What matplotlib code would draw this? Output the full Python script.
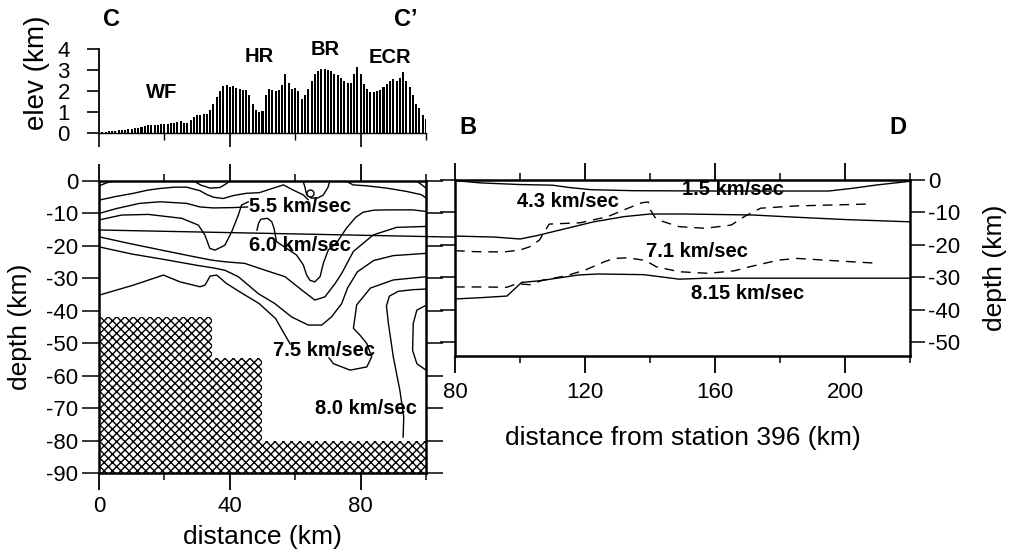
import numpy as np
import matplotlib
matplotlib.use("Agg")
import matplotlib.pyplot as plt
from matplotlib.ticker import FixedLocator

plt.rcParams['font.family'] = ['Liberation Sans', 'DejaVu Sans']
plt.rcParams['axes.unicode_minus'] = False
plt.rcParams['hatch.linewidth'] = 1.0

# ---------------- data ----------------
# topography along C-C' (km), one sample per km from 0 to 100
elev_km = [0.05, 0.06, 0.07, 0.08, 0.09, 0.10, 0.12, 0.13, 0.15, 0.17,
           0.20, 0.22, 0.25, 0.30, 0.35, 0.37, 0.36, 0.38, 0.40, 0.42,
           0.44, 0.45, 0.47, 0.50, 0.53, 0.55, 0.50, 0.47, 0.60, 0.75,
           0.85, 0.88, 0.90, 0.92, 1.10, 1.40, 1.70, 2.00, 2.25, 2.30,
           2.20, 2.25, 2.15, 2.10, 2.05, 2.05, 1.80, 1.40, 1.10, 1.00,
           1.05, 1.80, 2.10, 2.05, 2.00, 2.05, 2.30, 2.80, 2.40, 2.10,
           2.15, 2.00, 1.60, 1.80, 2.10, 2.50, 2.80, 2.95, 3.05, 3.05,
           3.00, 2.95, 2.80, 2.75, 2.60, 2.50, 2.40, 2.40, 2.80, 3.15,
           2.80, 2.35, 2.10, 1.95, 1.95, 2.00, 2.05, 2.20, 2.35, 2.50,
           2.55, 2.50, 2.60, 2.90, 2.50, 2.20, 1.80, 1.40, 1.20, 0.85,
           0.65]
elev_dist = np.arange(len(elev_km))

range_names = ["WF", "HR", "BR", "ECR"]
range_dist = [19.0, 48.9, 69.1, 89.1]
range_elev = [1.93, 3.64, 3.98, 3.60]

# velocity contours on profile C-C' as (distance km, depth km)
cc_west_top = [(0, -1.5), (2, -0.7), (4, 0)]
cc_dip_top = [(29, 0), (31, -1.2), (34, -2.2), (37, -2.0), (39, -0.8), (40, 0)]
cc_upper = [(0, -5.9), (5, -4.8), (10.5, -3.8), (15, -2.8), (18.7, -2.3), (23, -1.9),
            (26.8, -1.9), (30.9, -3.0), (33, -4.2), (35, -5.0), (38, -5.4), (41, -4.5),
            (45, -3.8), (49, -3.6), (53, -2.3), (56.4, -1.2), (59.4, -2.8), (62.5, -4.3),
            (64, -5.8)]
cc_upper_east = [(75.5, 0), (77.7, -1.2), (82, -1.5), (88, -2.2), (94, -3.2),
                 (98.5, -4.2), (100, -5.2)]
cc_u_shape = [(62.4, 0), (63, -2), (63.5, -4.3), (65, -5.3), (67, -5.2), (68.6, -4.3),
              (70, -2), (70.6, 0)]
cc_corner = [(97, 0), (98.5, -1.0), (100, -2.2)]
cc_55 = [(0, -10), (5.3, -8.5), (12.4, -6.9), (18.7, -6.4), (26.8, -6.9), (30.9, -8),
         (35, -8.3), (41, -8.2), (45.5, -8)]
cc_trough = [(0, -12), (6.9, -10.5), (15.1, -10.3), (25.3, -11.5), (30.4, -13.6),
             (32.4, -16.7), (33.9, -20.8), (35.5, -21.3), (38.5, -19.8), (40.6, -15.6),
             (42.6, -10.5), (43.6, -7.4), (45.7, -6.4)]
cc_60 = [(48.3, -15.2), (48.8, -13), (49.5, -11.8), (51.5, -11.5), (52.8, -12.5),
         (53.5, -14.5), (54.3, -18.7), (57.4, -20.8), (60.4, -22.8), (62.5, -25.9),
         (63.5, -29), (64.5, -30.6), (66, -31.1), (67.6, -29.5), (68.6, -25.4),
         (70.1, -21.3), (72.7, -19.0), (75.7, -14.5), (78.5, -11.2), (80.8, -9.6),
         (84, -9.0), (88, -8.9), (96, -8.9), (100, -9.4)]
cc_mid = [(0, -17.2), (9, -19.2), (19.1, -21.3), (29.4, -23.4), (34.5, -24.4),
          (38.5, -24.9), (44.6, -25.4), (50.8, -27.5), (56.9, -29.5), (62, -33.6),
          (66, -36.7), (69.1, -35.7), (72.2, -31.6), (74.2, -28.5), (77.8, -21.7),
          (83.9, -16.6), (91, -14.3), (100, -14)]
cc_deep = [(0, -20.3), (10, -22.5), (20, -24.2), (30, -26), (35, -26.8), (38.5, -27.5),
           (42.6, -29.5), (48.7, -34.7), (53.8, -37.8), (58.9, -41.9), (64, -44.4),
           (68.1, -44.4), (71.1, -41.9), (74.2, -37.8), (76, -33), (79, -28),
           (84, -24.5), (90, -23), (100, -22.3)]
cc_75 = [(0, -35.2), (10.5, -32.1), (19.7, -29), (24.8, -31.1), (30.9, -32.6),
         (32.4, -32.1), (34, -29.3), (36, -29), (39, -31.6), (43.1, -34.2), (49, -37.8),
         (54, -42.4), (56.9, -47.5), (58.5, -50.3)]
cc_75_loop = [(70.3, -54.5), (71.7, -56.3), (76.8, -58.3), (81.9, -57.3), (83.4, -54.2),
              (81.9, -50.1), (79.8, -47.5), (77.8, -45.4), (78.8, -38.2), (83, -33),
              (90, -30.5), (100, -29.5)]
cc_80 = [(93, -79), (93.2, -72.7), (92, -64.5), (90, -54.2), (88.5, -43.9),
         (87.9, -38.5), (88.8, -35.5), (91.5, -34), (96, -33.5), (100, -33.3)]
cc_edge_loop = [(100, -38.3), (97.2, -39.8), (96.1, -43.9), (95.9, -52.2),
                (97.2, -56.3), (100, -58.3)]
cc_small_ring = (64.5, -3.8)
# straight reference line carried across to profile B-D
cross_line_dist = [0, 108.9]
cross_line_depth = [-15.1, -17.3]

# unresolved (hatched) zone: step edges and top depth
unres_edges = [0, 34.5, 49.7, 100]
unres_top = [-42, -54.7, -80, -80]

cc_labels = ["5.5 km/sec", "6.0 km/sec", "7.5 km/sec", "8.0 km/sec"]
cc_label_dist = [61.5, 61.5, 68.7, 81.5]
cc_label_depth = [-7.9, -19.8, -52.2, -70.2]

# layer boundaries on profile B-D (distance from station 396 km, depth km)
bd_15 = [(80, -0.2), (88, -0.9), (100, -1.4), (110, -1.6), (115, -2.3), (122, -3.0),
         (135, -3.3), (160, -3.4), (180, -3.4), (195, -3.4), (202, -2.6), (210, -1.5),
         (220, -0.4)]
bd_43 = [(80, -17.3), (92, -17.6), (100, -18.2), (105, -17.2), (112, -15.5),
         (122.7, -12.9), (132, -11.3), (140, -10.5), (151, -10.5), (171.6, -10.8),
         (185.3, -11.5), (200, -12.2), (220, -12.9)]
bd_815 = [(80, -36.7), (88, -36.3), (96, -35.8), (100.5, -31.6), (106, -31.1),
          (118, -29.3), (124, -29.0), (138, -29.2), (149, -30.6), (157, -30.3),
          (180, -30.3), (220, -30.3)]
bd_dash_upper = [(80, -21.8), (86, -22.1), (95, -22.2), (100, -21.6), (103, -20.6),
                 (106, -18.5), (107.5, -16), (109, -13.6), (118.5, -13.2), (127, -11.3),
                 (133, -8.8), (137.5, -7.0), (139.5, -6.8), (140, -9), (141.5, -11.5),
                 (143, -12.5), (149, -14.4), (157, -14.9), (165, -13.9), (169, -11.3),
                 (174, -8.7), (185, -8), (208, -7.4)]
bd_dash_lower = [(80, -33), (88, -33), (96, -33.1), (99, -32), (103, -32.3),
                 (107, -30.9), (114, -29.6), (120, -27.8), (126, -25.2), (129, -24.2),
                 (133, -24), (138.5, -24.8), (142, -26.8), (149, -28.3), (158, -28.8),
                 (166, -28), (170.5, -26.8), (179.6, -24.7), (185.3, -24.2),
                 (196.6, -24.9), (210.3, -25.7)]
bd_labels = ["1.5 km/sec", "4.3 km/sec", "7.1 km/sec", "8.15 km/sec"]
bd_label_dist = [165.4, 114.7, 154.5, 170.0]
bd_label_depth = [-3.0, -6.7, -22.1, -35.0]

# ---------------- figure ----------------
W, H = 1011, 556
fig = plt.figure(figsize=(W / 100, H / 100), dpi=100)


def px_axes(x0, y0, x1, y1):
    return fig.add_axes([x0 / W, 1 - y1 / H, (x1 - x0) / W, (y1 - y0) / H])


ax_el = px_axes(99, 49, 426, 133)
ax_l = px_axes(99, 181, 426, 473)
ax_r = px_axes(455, 180, 910, 356)

TICK_FS = 16
LAB_FS = 19
TXT_FS = 14.5
LW = 1.0


def curve(ax, pts, **kw):
    xs, zs = zip(*pts)
    ax.plot(xs, zs, color='black', lw=kw.pop('lw', LW), solid_capstyle='round', **kw)


# ---- elevation profile ----
ax_el.bar(elev_dist, elev_km, width=0.62, color='black', linewidth=0)
ax_el.set_xlim(0, 100)
ax_el.set_ylim(0, 4)
for s in ('top', 'right'):
    ax_el.spines[s].set_visible(False)
ax_el.spines['left'].set_linewidth(1.3)
ax_el.spines['bottom'].set_linewidth(1.0)
ax_el.set_yticks([0, 1, 2, 3, 4])
ax_el.xaxis.set_major_locator(FixedLocator([0, 40, 80]))
ax_el.xaxis.set_minor_locator(FixedLocator([20, 60, 100]))
ax_el.tick_params(axis='x', which='major', length=10, width=1.2, labelbottom=False)
ax_el.tick_params(axis='x', which='minor', length=5, width=1.0)
ax_el.tick_params(axis='y', length=9, width=1.2, labelsize=TICK_FS, pad=12)
ax_el.set_ylabel("elev (km)", fontsize=20)
ax_el.yaxis.set_label_coords(-0.15, 0.72)
for name, x, y in zip(range_names, range_dist, range_elev):
    ax_el.text(x, y, name, fontsize=TXT_FS, fontweight='bold', ha='center', va='center')
fig.text(111 / W, 1 - 20 / H, "C", fontsize=17, fontweight='bold', ha='center', va='center')
fig.text(406 / W, 1 - 20 / H, "C\u2019", fontsize=17, fontweight='bold', ha='center', va='center')

# ---- profile C-C' ----
ax_l.set_xlim(0, 100)
ax_l.set_ylim(-90, 0)
ax_l.fill_between(unres_edges, unres_top, -90, step='post', facecolor='white',
                  edgecolor='black', hatch='xxxx', linewidth=0, zorder=1)
for pts in (cc_west_top, cc_dip_top, cc_upper, cc_upper_east, cc_u_shape, cc_corner,
            cc_55, cc_trough, cc_60, cc_mid, cc_deep, cc_75, cc_75_loop, cc_80,
            cc_edge_loop):
    curve(ax_l, pts, zorder=2)
ax_l.plot(*cc_small_ring, marker='o', ms=5, mfc='white', mec='black', mew=1.0, zorder=2)
ax_l.plot(cross_line_dist, cross_line_depth, color='black', lw=LW, clip_on=False, zorder=2)
for t, x, y in zip(cc_labels, cc_label_dist, cc_label_depth):
    ax_l.text(x, y, t, fontsize=TXT_FS, fontweight='bold', ha='center', va='center', zorder=4)

for s in ax_l.spines.values():
    s.set_linewidth(1.8)
    s.set_zorder(5)
ax_l.set_yticks(np.arange(-90, 1, 10))
ax_l.xaxis.set_major_locator(FixedLocator([0, 40, 80]))
ax_l.xaxis.set_minor_locator(FixedLocator([20, 60, 100]))
ax_l.tick_params(axis='x', which='major', top=True, length=12, width=1.3,
                 labelsize=TICK_FS, pad=4.5)
ax_l.tick_params(axis='x', which='minor', top=True, length=5, width=1.1)
ax_l.tick_params(axis='y', right=True, length=12, width=1.1, labelsize=TICK_FS, pad=3)
ax_l.set_xlabel("distance (km)", fontsize=LAB_FS, labelpad=6)
ax_l.set_ylabel("depth (km)", fontsize=LAB_FS)
ax_l.yaxis.set_label_coords(-0.205, 0.5)

# ---- profile B-D ----
ax_r.set_xlim(80, 220)
ax_r.set_ylim(-54.3, 0)
for pts in (bd_15, bd_43, bd_815):
    curve(ax_r, pts, zorder=2)
for pts in (bd_dash_upper, bd_dash_lower):
    curve(ax_r, pts, ls=(0, (7, 5)), zorder=2)
for t, x, y in zip(bd_labels, bd_label_dist, bd_label_depth):
    ax_r.text(x, y, t, fontsize=TXT_FS, fontweight='bold', ha='center', va='center', zorder=4)
for s in ax_r.spines.values():
    s.set_linewidth(1.8)
ax_r.set_yticks(np.arange(-50, 1, 10))
ax_r.xaxis.set_major_locator(FixedLocator([80, 120, 160, 200]))
ax_r.xaxis.set_minor_locator(FixedLocator([100, 140, 180, 220]))
ax_r.tick_params(axis='x', which='major', top=True, length=12, width=1.3,
                 labelsize=TICK_FS, pad=7)
ax_r.tick_params(axis='x', which='minor', top=True, length=5, width=1.1)
ax_r.tick_params(axis='y', left=True, right=True, labelleft=False, labelright=True,
                 length=11, width=1.1, labelsize=TICK_FS, pad=2)
ax_r.set_xlabel("distance from station 396 (km)", fontsize=LAB_FS, labelpad=16)
ax_r.yaxis.set_label_position('right')
ax_r.set_ylabel("depth (km)", fontsize=LAB_FS, rotation=90)
ax_r.yaxis.set_label_coords(1.16, 0.5)
fig.text(468 / W, 1 - 128 / H, "B", fontsize=17, fontweight='bold', ha='center', va='center')
fig.text(898 / W, 1 - 128 / H, "D", fontsize=17, fontweight='bold', ha='center', va='center')

fig.savefig("out.png", dpi=100, facecolor='white')
